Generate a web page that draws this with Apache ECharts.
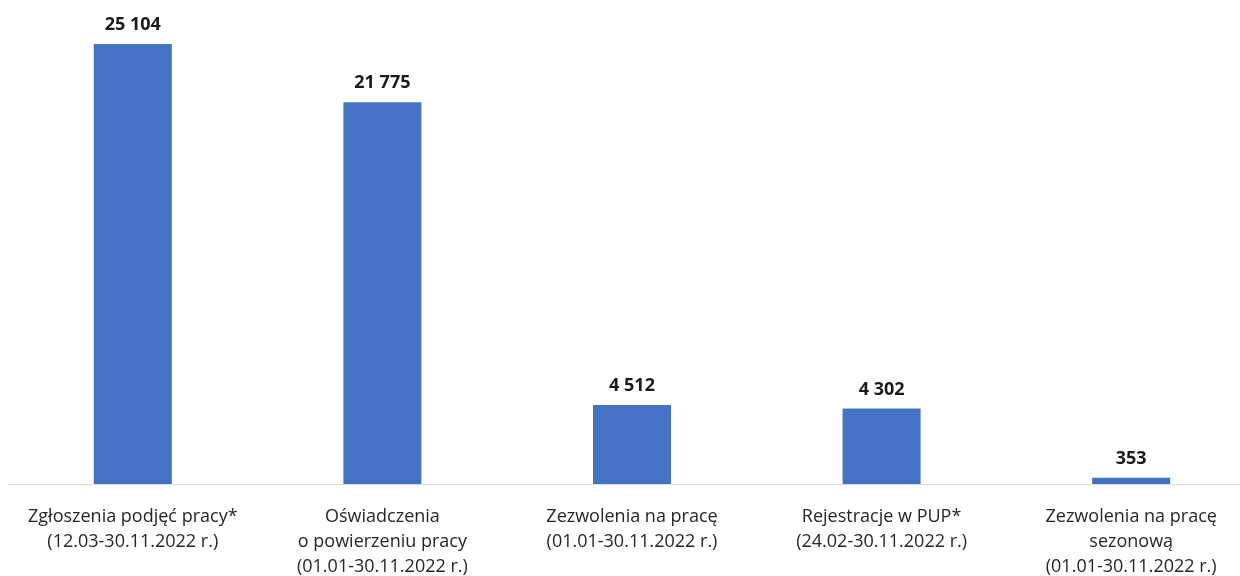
<!DOCTYPE html>
<html>
<head>
<meta charset="utf-8">
<script src="https://cdn.jsdelivr.net/npm/echarts@6/dist/echarts.min.js"></script>
<style>
  html, body { margin: 0; padding: 0; background: #fff; }
  #chart { width: 1240px; height: 576px; }
</style>
</head>
<body>
<div id="chart"></div>
<script>
// kategorie i wartości
var categories = [
    'Zgłoszenia podjęć pracy*\n(12.03-30.11.2022 r.)',
    'Oświadczenia\no powierzeniu pracy\n(01.01-30.11.2022 r.)',
    'Zezwolenia na pracę\n(01.01-30.11.2022 r.)',
    'Rejestracje w PUP*\n(24.02-30.11.2022 r.)',
    'Zezwolenia na pracę\nsezonową\n(01.01-30.11.2022 r.)'
];
var values = [25104, 21775, 4512, 4302, 353];

function fmt(v) {
    return String(v).replace(/\B(?=(\d{3})+(?!\d))/g, ' ');
}

var chart = echarts.init(document.getElementById('chart'));
var option = {
    animation: false,
    grid: {
        left: 8, right: -16, top: 44, bottom: 92,
        containLabel: false,
        outerBoundsMode: 'none'
    },
    xAxis: {
        type: 'category',
        data: categories,
        axisLine: { lineStyle: { color: '#d9d9d9', width: 1 } },
        axisTick: { show: false },
        axisLabel: {
            interval: 0,
            margin: 20,
            color: '#262626',
            fontSize: 18,
            lineHeight: 25,
            fontFamily: 'Open Sans, sans-serif'
        }
    },
    yAxis: {
        type: 'value',
        min: 0,
        max: 25104,
        show: false,
        splitLine: { show: false }
    },
    series: [{
        type: 'bar',
        data: values,
        barWidth: 78,
        itemStyle: { color: '#4472c4' },
        label: {
            show: true,
            position: 'top',
            distance: 10,
            color: '#1a1a1a',
            fontSize: 18,
            fontWeight: 'bold',
            fontFamily: 'Open Sans, sans-serif',
            formatter: function (p) { return fmt(p.value); }
        }
    }]
};
chart.setOption(option);
</script>
</body>
</html>
